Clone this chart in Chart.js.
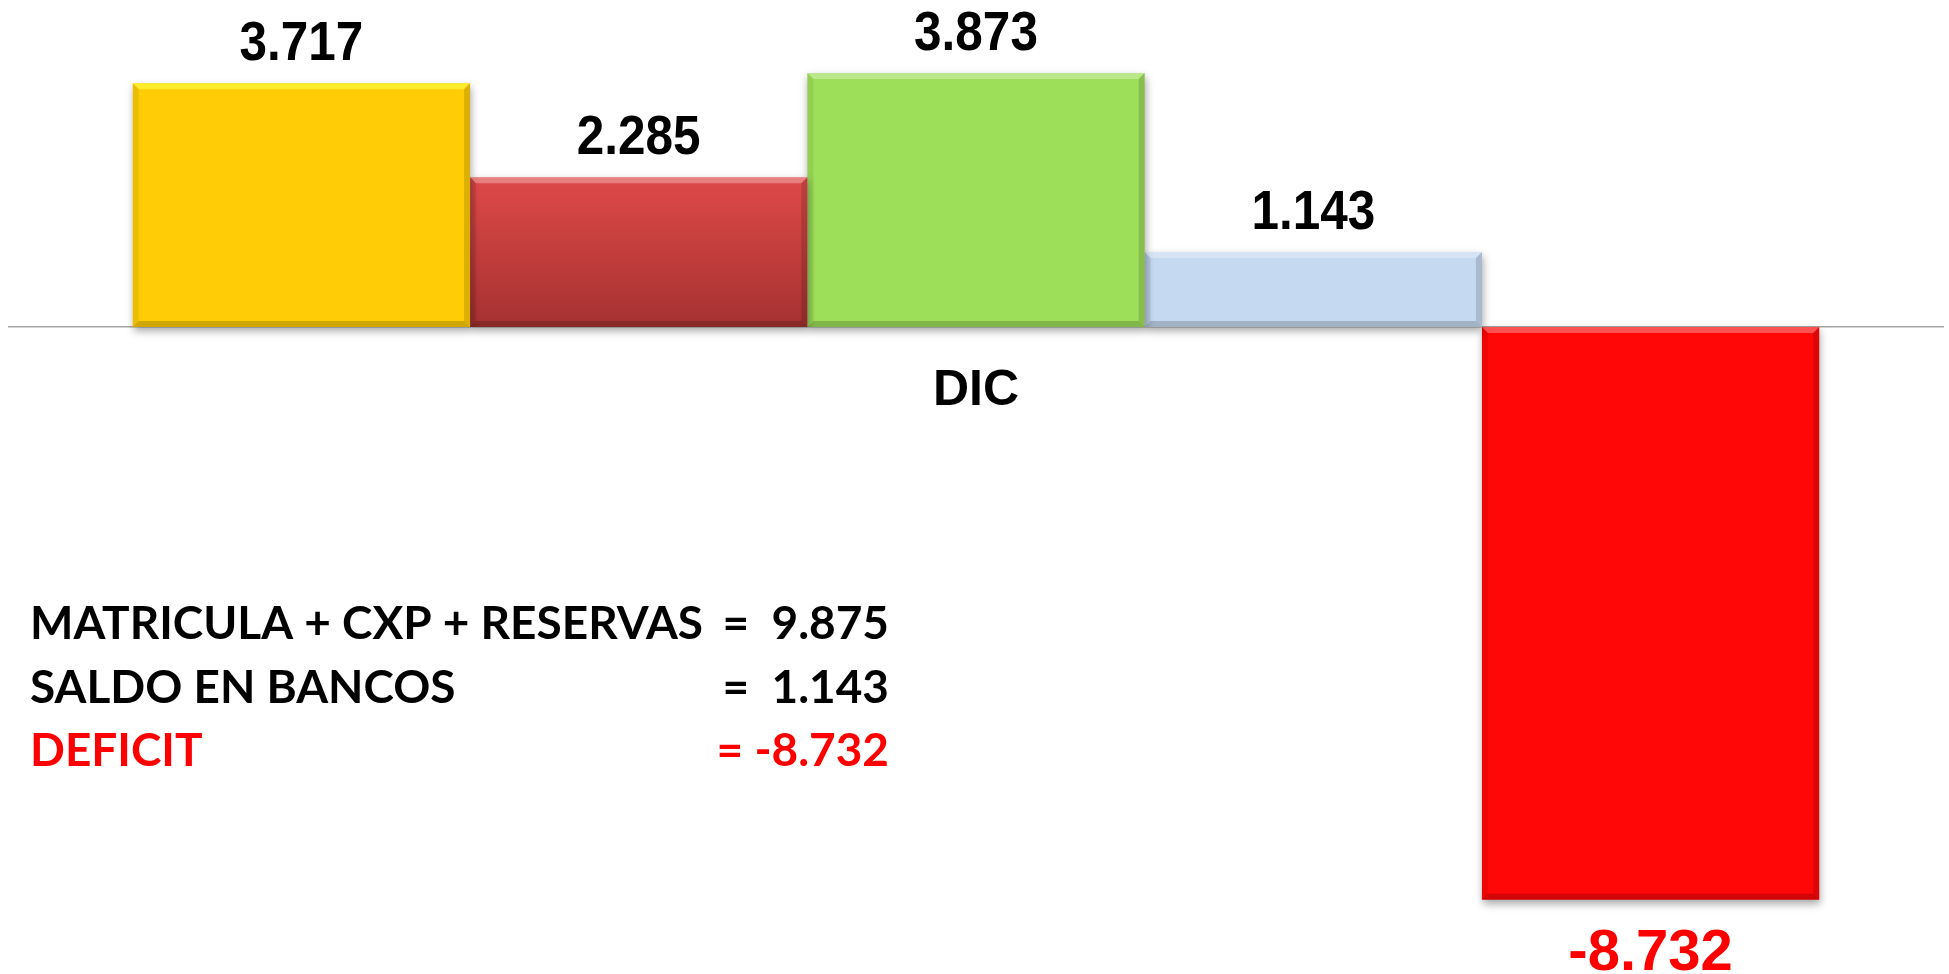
<!DOCTYPE html>
<html lang="es">
<head>
    <meta charset="UTF-8">
    <title>Deficit DIC</title>
    <script src="https://cdn.jsdelivr.net/npm/chart.js"></script>
    <style>
        html, body { margin: 0; padding: 0; background: #fff; }
        .chart-box { width: 1949px; height: 974px; position: relative; }
    </style>
</head>
<body>
    <div class="chart-box">
        <canvas id="dataChart"></canvas>
    </div>

    <script>
        // data
        const categories = ['DIC'];
        const seriesNames = ['MATRICULA', 'CXP', 'RESERVAS', 'SALDO EN BANCOS', 'DEFICIT'];
        const seriesValues = [3.717, 2.285, 3.873, 1.143, -8.732];
        const seriesColors = ['#FFCC05', '#C83C3B', '#9EDF5A', '#C5D9F1', '#FF0707'];
        const summaryLabels = ['MATRICULA + CXP + RESERVAS', 'SALDO EN BANCOS', 'DEFICIT'];
        const summaryValues = ['=  9.875', '=  1.143', '= -8.732'];

        const fmt = v => v.toFixed(3);

        // dark red bar has a vertical gradient
        function redGradient(context) {
            const chart = context.chart;
            if (!chart.chartArea) return '#C83C3B';
            const y = chart.scales.y;
            const top = y.getPixelForValue(seriesValues[1]);
            const bottom = y.getPixelForValue(0);
            const g = chart.ctx.createLinearGradient(0, top, 0, bottom);
            g.addColorStop(0, '#DE4A48');
            g.addColorStop(1, '#A53131');
            return g;
        }

        const datasets = seriesNames.map((name, i) => ({
            label: name,
            data: [seriesValues[i]],
            backgroundColor: i === 1 ? redGradient : seriesColors[i],
            borderWidth: 0
        }));

        // soft shadow under the bars + bevel edges
        const bevelPlugin = {
            id: 'bevel',
            beforeDatasetsDraw(chart) {
                const ctx = chart.ctx;
                ctx.save();
                ctx.shadowColor = 'rgba(0,0,0,0.35)';
                ctx.shadowBlur = 8;
                ctx.shadowOffsetX = 1;
                ctx.shadowOffsetY = 4;
            },
            afterDatasetsDraw(chart) {
                const ctx = chart.ctx;
                ctx.restore();
                const d = 6;
                chart.data.datasets.forEach((ds, i) => {
                    chart.getDatasetMeta(i).data.forEach(bar => {
                        const l = bar.x - bar.width / 2, r = bar.x + bar.width / 2;
                        const t = Math.min(bar.y, bar.base), b = Math.max(bar.y, bar.base);
                        const poly = (pts, color) => {
                            ctx.beginPath();
                            ctx.moveTo(pts[0][0], pts[0][1]);
                            pts.slice(1).forEach(p => ctx.lineTo(p[0], p[1]));
                            ctx.closePath();
                            ctx.fillStyle = color;
                            ctx.fill();
                        };
                        poly([[l, t], [r, t], [r - d, t + d], [l + d, t + d]], i === 0 ? 'rgba(255,250,60,0.7)' : 'rgba(255,255,255,0.3)');
                        poly([[l, b], [r, b], [r - d, b - d], [l + d, b - d]], 'rgba(0,0,0,0.18)');
                        poly([[l, t], [l + d, t + d], [l + d, b - d], [l, b]], 'rgba(0,0,0,0.07)');
                        poly([[r, t], [r - d, t + d], [r - d, b - d], [r, b]], 'rgba(0,0,0,0.14)');
                    });
                });
            }
        };

        // value labels above / below each bar (slightly tall type, as in the original)
        const valueLabels = {
            id: 'valueLabels',
            afterDatasetsDraw(chart) {
                const ctx = chart.ctx;
                chart.data.datasets.forEach((ds, i) => {
                    chart.getDatasetMeta(i).data.forEach((bar, j) => {
                        const v = ds.data[j];
                        ctx.save();
                        ctx.textAlign = 'center';
                        ctx.textBaseline = 'alphabetic';
                        if (v >= 0) {
                            ctx.translate(bar.x, bar.y - 23);
                            ctx.scale(0.97, 1.1);
                            ctx.font = 'bold 51px "Liberation Sans", Arial, sans-serif';
                            ctx.fillStyle = '#000';
                        } else {
                            ctx.translate(bar.x, bar.y + 70);
                            ctx.font = 'bold 58px "Liberation Sans", Arial, sans-serif';
                            ctx.fillStyle = '#FF0000';
                        }
                        ctx.fillText(fmt(v), 0, 0);
                        ctx.restore();
                    });
                });
            }
        };

        // summary text block at lower left
        const summaryText = {
            id: 'summaryText',
            afterDraw(chart) {
                const ctx = chart.ctx;
                ctx.save();
                ctx.font = 'bold 46px Lato, "Open Sans", sans-serif';
                const sx = 673 / ctx.measureText(summaryLabels[0]).width;
                const baselines = [639, 703, 766];
                summaryLabels.forEach((txt, i) => {
                    ctx.fillStyle = i === 2 ? '#FF0000' : '#000';
                    ctx.save();
                    ctx.translate(30, baselines[i]);
                    ctx.scale(sx, 1);
                    ctx.textAlign = 'left';
                    ctx.fillText(txt, 0, 0);
                    ctx.restore();
                    ctx.save();
                    ctx.translate(889, baselines[i]);
                    ctx.scale(sx, 1);
                    ctx.textAlign = 'right';
                    ctx.fillText(summaryValues[i], 0, 0);
                    ctx.restore();
                });
                ctx.restore();
            }
        };

        const ctx = document.getElementById('dataChart').getContext('2d');
        new Chart(ctx, {
            type: 'bar',
            data: {
                labels: categories,
                datasets: datasets
            },
            options: {
                responsive: true,
                maintainAspectRatio: false,
                animation: false,
                layout: { padding: { left: 9, right: 6, top: 32, bottom: 24 } },
                datasets: {
                    bar: { categoryPercentage: 0.872, barPercentage: 1.0 }
                },
                plugins: {
                    legend: { display: false },
                    tooltip: { enabled: false }
                },
                scales: {
                    x: {
                        position: { y: 0 },
                        offset: true,
                        grid: { display: false, drawTicks: false },
                        border: { display: true, color: '#A6A6A6', width: 1.5 },
                        ticks: {
                            color: '#000',
                            padding: 34,
                            font: { family: '"Liberation Sans", Arial, sans-serif', size: 50, weight: 'bold' }
                        },
                        afterFit: scale => { scale.height = 0; }
                    },
                    y: {
                        display: false,
                        min: -9.5,
                        max: 4.5
                    }
                }
            },
            plugins: [bevelPlugin, valueLabels, summaryText]
        });
    </script>
</body>
</html>
